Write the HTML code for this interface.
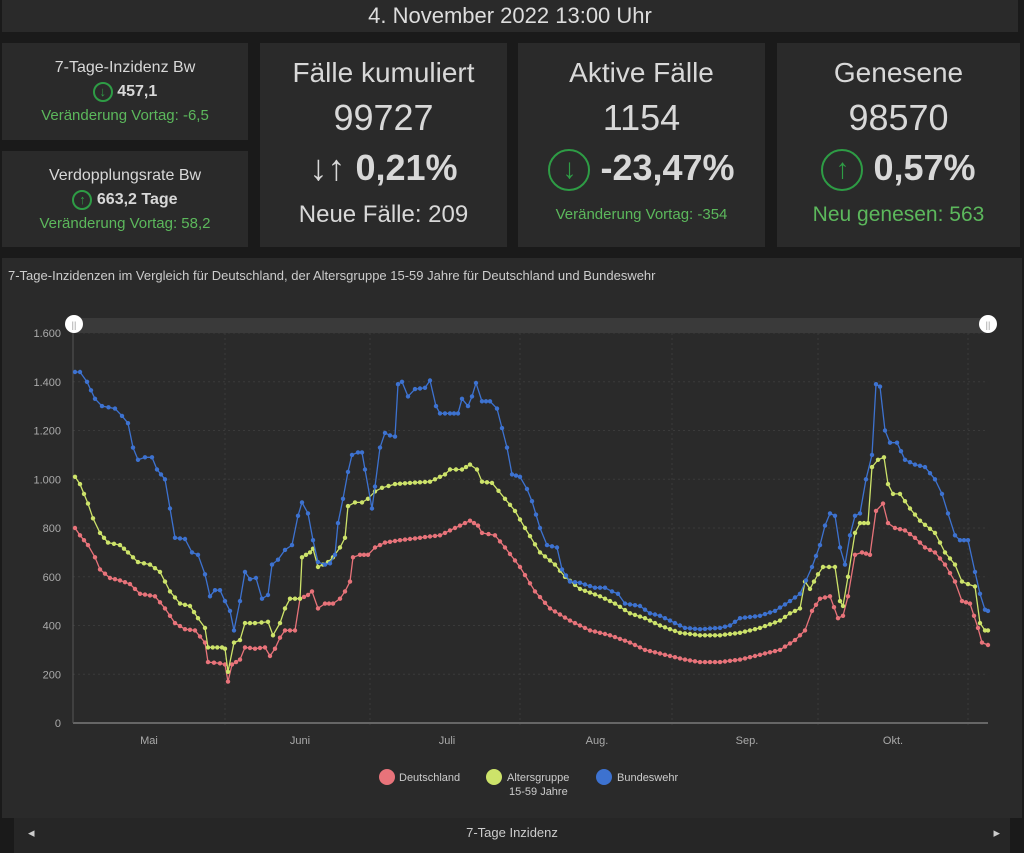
<!DOCTYPE html>
<html><head><meta charset="utf-8"><style>
body{margin:0;width:1024px;height:853px;background:#1a1a1a;font-family:"Liberation Sans",sans-serif;overflow:hidden;position:relative;color:#d8d8d8}
.p{position:absolute;background:#2a2a2a;box-sizing:border-box;text-align:center}
.g{color:#5cb85c}
.c{display:inline-block;border:2px solid #2e9c45;border-radius:50%;color:#2e9c45;text-align:center;box-sizing:border-box;vertical-align:middle}
</style></head><body>
<div class="p" style="left:2px;top:0;width:1016px;height:32px;font-size:22px;line-height:32px;color:#ddd">4. November 2022 13:00 Uhr</div>
<div class="p" style="left:2px;top:43px;width:246px;height:97px;padding-top:13px;font-size:16px;line-height:24px">7-Tage-Inzidenz Bw<br><span class="c" style="width:20px;height:20px;font-size:13px;line-height:16px">↓</span> <b>457,1</b><br><span class="g" style="font-size:15px">Veränderung Vortag: -6,5</span></div>
<div class="p" style="left:2px;top:151px;width:246px;height:96px;padding-top:13px;font-size:16px;line-height:24px">Verdopplungsrate Bw<br><span class="c" style="width:20px;height:20px;font-size:13px;line-height:16px">↑</span> <b>663,2 Tage</b><br><span class="g" style="font-size:15px">Veränderung Vortag: 58,2</span></div>
<div class="p" style="left:260px;top:43px;width:247px;height:204px;padding-top:10px">
<div style="font-size:28px;line-height:40px">Fälle kumuliert</div>
<div style="font-size:36px;line-height:50px">99727</div>
<div style="font-size:36px;line-height:50px;font-weight:bold">↓↑ 0,21%</div>
<div style="font-size:24px;line-height:44px">Neue Fälle: 209</div></div>
<div class="p" style="left:518px;top:43px;width:247px;height:204px;padding-top:10px">
<div style="font-size:28px;line-height:40px">Aktive Fälle</div>
<div style="font-size:36px;line-height:50px">1154</div>
<div style="font-size:36px;line-height:50px;font-weight:bold"><span class="c" style="width:42px;height:42px;font-size:28px;line-height:36px;font-weight:normal">↓</span> -23,47%</div>
<div class="g" style="font-size:15px;line-height:44px">Veränderung Vortag: -354</div></div>
<div class="p" style="left:777px;top:43px;width:243px;height:204px;padding-top:10px">
<div style="font-size:28px;line-height:40px">Genesene</div>
<div style="font-size:36px;line-height:50px">98570</div>
<div style="font-size:36px;line-height:50px;font-weight:bold"><span class="c" style="width:42px;height:42px;font-size:28px;line-height:36px;font-weight:normal">↑</span> 0,57%</div>
<div class="g" style="font-size:21px;line-height:44px">Neu genesen: 563</div></div>
<div class="p" style="left:2px;top:258px;width:1020px;height:560px;text-align:left">
<div style="position:absolute;left:6px;top:10px;font-size:13px;color:#ccc">7-Tage-Inzidenzen im Vergleich für Deutschland, der Altersgruppe 15-59 Jahre für Deutschland und Bundeswehr</div></div>
<div style="position:absolute;left:14px;top:818px;width:996px;height:35px;background:#262626;text-align:center;font-size:13px;line-height:30px;color:#ccc">7-Tage Inzidenz<span style="position:absolute;left:14px">◂</span><span style="position:absolute;right:10px">▸</span></div>
<svg id="s" width="1024" height="853" style="position:absolute;left:0;top:0" font-family="Liberation Sans,sans-serif"></svg>
<script>
var s='';
function Y(v){return 723-v*0.24375}
s+='<rect x="73" y="318" width="915" height="15" fill="#3a3a3a"/>';
for(var v=0;v<=1600;v+=200){s+='<line x1="73" x2="988" y1="'+Y(v)+'" y2="'+Y(v)+'" stroke="#3a3a3a" stroke-dasharray="2,3"/>';s+='<text x="61" y="'+(Y(v)+4)+'" fill="#aaa" font-size="11" text-anchor="end">'+(v?(v/1000|0)?(v/1000|0)+'.'+String(v%1000).padStart(3,'0'):v:0)+'</text>';}
[225,370,520,672,818,968].forEach(function(x){s+='<line x1="'+x+'" x2="'+x+'" y1="333" y2="728" stroke="#3a3a3a" stroke-dasharray="2,3"/>'});
s+='<line x1="73" x2="988" y1="723" y2="723" stroke="#666" stroke-width="2"/><line x1="73" x2="73" y1="333" y2="723" stroke="#555"/>';
[["Mai",149],["Juni",300],["Juli",447],["Aug.",597],["Sep.",747],["Okt.",893]].forEach(function(m){s+='<text x="'+m[1]+'" y="744" fill="#aaa" font-size="11" text-anchor="middle">'+m[0]+'</text>'});
var B=[[75,1440],[80,1440],[87,1400],[95,1330],[102,1300],[115,1290],[122,1260],[128,1230],[133,1130],[138,1080],[145,1090],[152,1090],[157,1040],[165,1000],[170,880],[175,760],[185,755],[192,700],[198,690],[205,610],[210,520],[215,545],[220,545],[225,500],[230,460],[234,380],[240,500],[245,620],[250,590],[256,595],[262,510],[268,525],[272,650],[278,670],[285,710],[292,730],[298,850],[302,905],[308,860],[313,750],[318,660],[325,650],[330,655],[335,690],[338,820],[343,920],[348,1030],[352,1100],[358,1110],[362,1110],[365,1040],[372,880],[375,970],[380,1130],[385,1190],[390,1180],[395,1175],[398,1390],[402,1400],[408,1340],[415,1370],[425,1375],[430,1405],[436,1300],[440,1270],[450,1270],[458,1270],[462,1330],[468,1300],[472,1340],[476,1395],[482,1320],[490,1320],[497,1290],[502,1210],[507,1130],[512,1020],[520,1010],[527,960],[532,910],[540,800],[547,730],[557,720],[562,630],[570,580],[580,575],[595,555],[605,555],[612,540],[618,530],[625,490],[640,480],[650,450],[660,440],[670,420],[685,390],[700,385],[720,390],[730,400],[740,430],[760,440],[775,460],[790,500],[800,530],[812,640],[820,730],[825,810],[830,860],[835,850],[840,720],[845,650],[850,770],[855,850],[860,860],[866,1000],[872,1100],[876,1390],[880,1380],[885,1200],[890,1150],[897,1150],[905,1080],[915,1060],[925,1050],[935,1000],[942,940],[948,860],[955,770],[960,750],[968,750],[975,620],[980,530],[985,465],[988,460]];
var G=[[75,1010],[80,980],[88,900],[93,840],[100,780],[108,740],[120,730],[128,700],[138,660],[150,650],[160,620],[170,540],[180,490],[190,480],[198,430],[205,390],[208,310],[222,310],[225,305],[228,210],[234,330],[240,340],[245,410],[255,410],[268,415],[273,360],[280,410],[285,470],[290,510],[300,510],[302,680],[310,700],[313,715],[318,640],[328,660],[333,680],[340,720],[345,760],[348,890],[355,905],[362,905],[368,920],[375,950],[382,965],[395,980],[410,985],[430,990],[445,1020],[450,1040],[462,1040],[470,1060],[477,1040],[482,990],[492,985],[505,920],[515,870],[525,800],[540,700],[555,650],[565,600],[580,550],[600,520],[615,490],[630,450],[645,430],[660,400],[680,370],[700,360],[720,360],[740,370],[760,390],[780,420],[790,450],[800,470],[805,580],[810,550],[818,610],[823,640],[835,640],[840,500],[843,480],[848,600],[855,780],[860,820],[868,820],[872,1050],[878,1080],[884,1090],[888,980],[893,940],[900,940],[910,880],[920,830],[935,780],[945,700],[955,650],[962,580],[968,570],[975,560],[980,410],[985,380],[988,380]];
var R=[[75,800],[80,770],[88,730],[95,680],[100,630],[110,595],[120,585],[130,570],[140,530],[155,520],[165,470],[175,410],[185,385],[195,380],[205,330],[208,250],[220,245],[225,240],[228,170],[232,240],[240,260],[245,310],[255,305],[265,310],[270,275],[275,305],[280,350],[285,380],[295,380],[300,510],[308,525],[312,540],[318,470],[325,490],[333,490],[340,510],[345,540],[350,580],[353,680],[360,690],[368,690],[375,720],[385,740],[400,750],[420,760],[440,770],[450,790],[460,810],[470,830],[478,810],[482,780],[495,770],[505,720],[520,640],[535,540],[550,470],[570,420],[590,380],[610,360],[630,330],[645,300],[665,280],[685,260],[700,250],[720,250],[740,260],[760,280],[780,300],[795,340],[805,380],[812,460],[820,510],[830,520],[838,430],[843,440],[848,520],[855,690],[862,700],[870,690],[876,870],[883,900],[888,820],[895,800],[905,790],[915,760],[925,720],[935,700],[945,650],[955,580],[962,500],[970,490],[978,390],[982,330],[988,320]];
function draw(d,c){var pts=[];for(var i=0;i<d.length-1;i++){var a=d[i],b=d[i+1];var n=Math.max(1,Math.round((b[0]-a[0])/5.3));for(var k=0;k<n;k++){var t=k/n;pts.push([a[0]+(b[0]-a[0])*t,Y(a[1]+(b[1]-a[1])*t)]);}}var l=d[d.length-1];pts.push([l[0],Y(l[1])]);
s+='<polyline fill="none" stroke="'+c+'" stroke-width="1.3" points="'+pts.map(function(p){return p[0].toFixed(1)+','+p[1].toFixed(1)}).join(' ')+'"/>';
pts.forEach(function(p){s+='<circle cx="'+p[0].toFixed(1)+'" cy="'+p[1].toFixed(1)+'" r="2.2" fill="'+c+'"/>'});}
draw(R,"#e8737a");draw(G,"#cde36a");draw(B,"#3d72d0");
s+='<circle cx="74" cy="324" r="9" fill="#fff"/><circle cx="988" cy="324" r="9" fill="#fff"/><text x="74" y="328" font-size="9" text-anchor="middle" fill="#999">||</text><text x="988" y="328" font-size="9" text-anchor="middle" fill="#999">||</text>';
s+='<circle cx="387" cy="777" r="8" fill="#e8737a"/><text x="399" y="781" fill="#ccc" font-size="11">Deutschland</text>';
s+='<circle cx="494" cy="777" r="8" fill="#cde36a"/><text x="507" y="781" fill="#ccc" font-size="11">Altersgruppe</text><text x="509" y="795" fill="#ccc" font-size="11">15-59 Jahre</text>';
s+='<circle cx="604" cy="777" r="8" fill="#3d72d0"/><text x="617" y="781" fill="#ccc" font-size="11">Bundeswehr</text>';
document.getElementById('s').innerHTML=s;
</script>
</body></html>
